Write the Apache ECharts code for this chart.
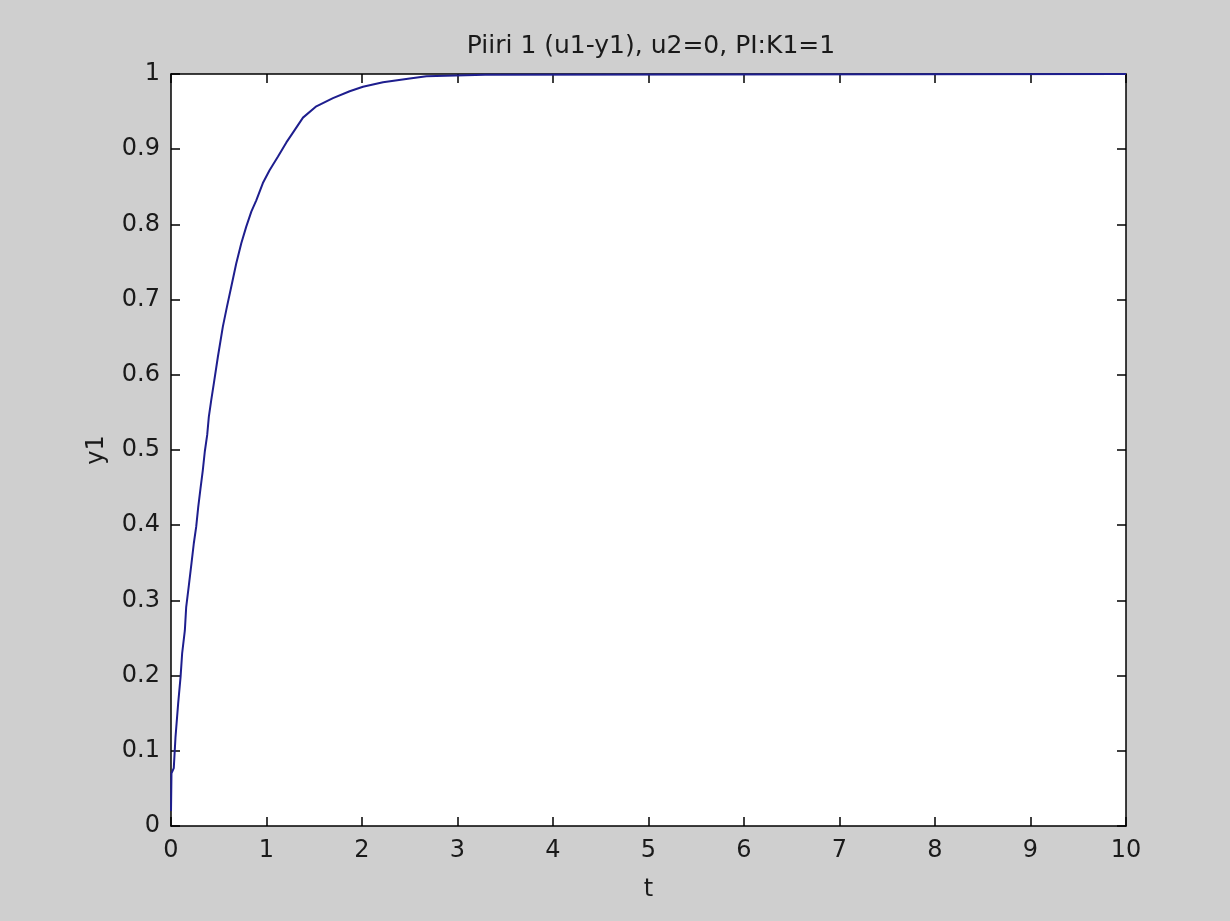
<!DOCTYPE html>
<html>
<head>
<meta charset="utf-8">
<title>Piiri 1</title>
<script src="https://cdn.jsdelivr.net/npm/echarts@6/dist/echarts.min.js"></script>
<style>
  html, body { margin: 0; padding: 0; background: #cfcfcf; }
  #main { width: 1230px; height: 921px; }
</style>
</head>
<body>
<div id="main"></div>
<script>
// step response
var tValues = [0, 0.005, 0.029, 0.047, 0.075, 0.10, 0.117, 0.145, 0.159, 0.187, 0.215, 0.239,
  0.264, 0.285, 0.309, 0.333, 0.354, 0.379, 0.396, 0.421, 0.449, 0.491, 0.543, 0.585,
  0.631, 0.683, 0.736, 0.788, 0.841, 0.893, 0.962, 1.032, 1.119, 1.208, 1.277, 1.382,
  1.522, 1.696, 1.871, 2.01, 2.22, 2.5, 2.675, 3.29, 10];
var y1Values = [0.02, 0.07, 0.077, 0.118, 0.163, 0.198, 0.23, 0.26, 0.291, 0.32, 0.35, 0.376,
  0.398, 0.424, 0.449, 0.473, 0.498, 0.52, 0.544, 0.566, 0.589, 0.624, 0.664, 0.69,
  0.717, 0.748, 0.775, 0.797, 0.817, 0.832, 0.855, 0.872, 0.89, 0.909, 0.922, 0.942,
  0.957, 0.968, 0.977, 0.983, 0.989, 0.994, 0.997, 0.999, 1];
var xTicks = [0, 10, 1];   // min, max, interval
var yTicks = [0, 1, 0.1];

var FONT = 'DejaVu Sans';
var chart = echarts.init(document.getElementById('main'));

var baseAxis = {
  axisLine: { show: true, onZero: false, lineStyle: { color: '#000', width: 1.5 } },
  axisTick: { show: true, inside: true, length: 9, lineStyle: { color: '#000', width: 1.5 } },
  splitLine: { show: false }
};

var option = {
  backgroundColor: '#cfcfcf',
  animation: false,
  title: {
    text: 'Piiri 1 (u1-y1), u2=0, PI:K1=1',
    left: 646,
    textAlign: 'center',
    top: 29,
    textStyle: { fontFamily: FONT, fontSize: 25, fontWeight: 'normal', color: '#1a1a1a' }
  },
  grid: {
    left: 171, right: 104, top: 74, bottom: 95,
    show: true, backgroundColor: '#fff', borderWidth: 0
  },
  xAxis: [
    Object.assign({}, baseAxis, {
      type: 'value', position: 'bottom', min: xTicks[0], max: xTicks[1], interval: xTicks[2],
      name: 't', nameLocation: 'middle', nameGap: 52,
      nameTextStyle: { fontFamily: FONT, fontSize: 24, color: '#1a1a1a' },
      axisLabel: { fontFamily: FONT, fontSize: 24, color: '#1a1a1a', margin: 13 }
    }),
    Object.assign({}, baseAxis, {
      type: 'value', position: 'top', min: xTicks[0], max: xTicks[1], interval: xTicks[2],
      axisLabel: { show: false }
    })
  ],
  yAxis: [
    Object.assign({}, baseAxis, {
      type: 'value', position: 'left', min: yTicks[0], max: yTicks[1], interval: yTicks[2],
      name: 'y1', nameLocation: 'middle', nameGap: 62,
      nameTextStyle: { fontFamily: FONT, fontSize: 24, color: '#1a1a1a' },
      axisLabel: { fontFamily: FONT, fontSize: 24, color: '#1a1a1a', margin: 11 }
    }),
    Object.assign({}, baseAxis, {
      type: 'value', position: 'right', min: yTicks[0], max: yTicks[1], interval: yTicks[2],
      axisLabel: { show: false }
    })
  ],
  series: [
    {
      name: 'y1',
      type: 'line',
      showSymbol: false,
      smooth: false,
      clip: false,
      lineStyle: { color: '#1e1e8e', width: 2 },
      data: tValues.map(function (t, i) { return [t, y1Values[i]]; }),
      z: 5
    }
  ]
};
chart.setOption(option);
</script>
</body>
</html>
